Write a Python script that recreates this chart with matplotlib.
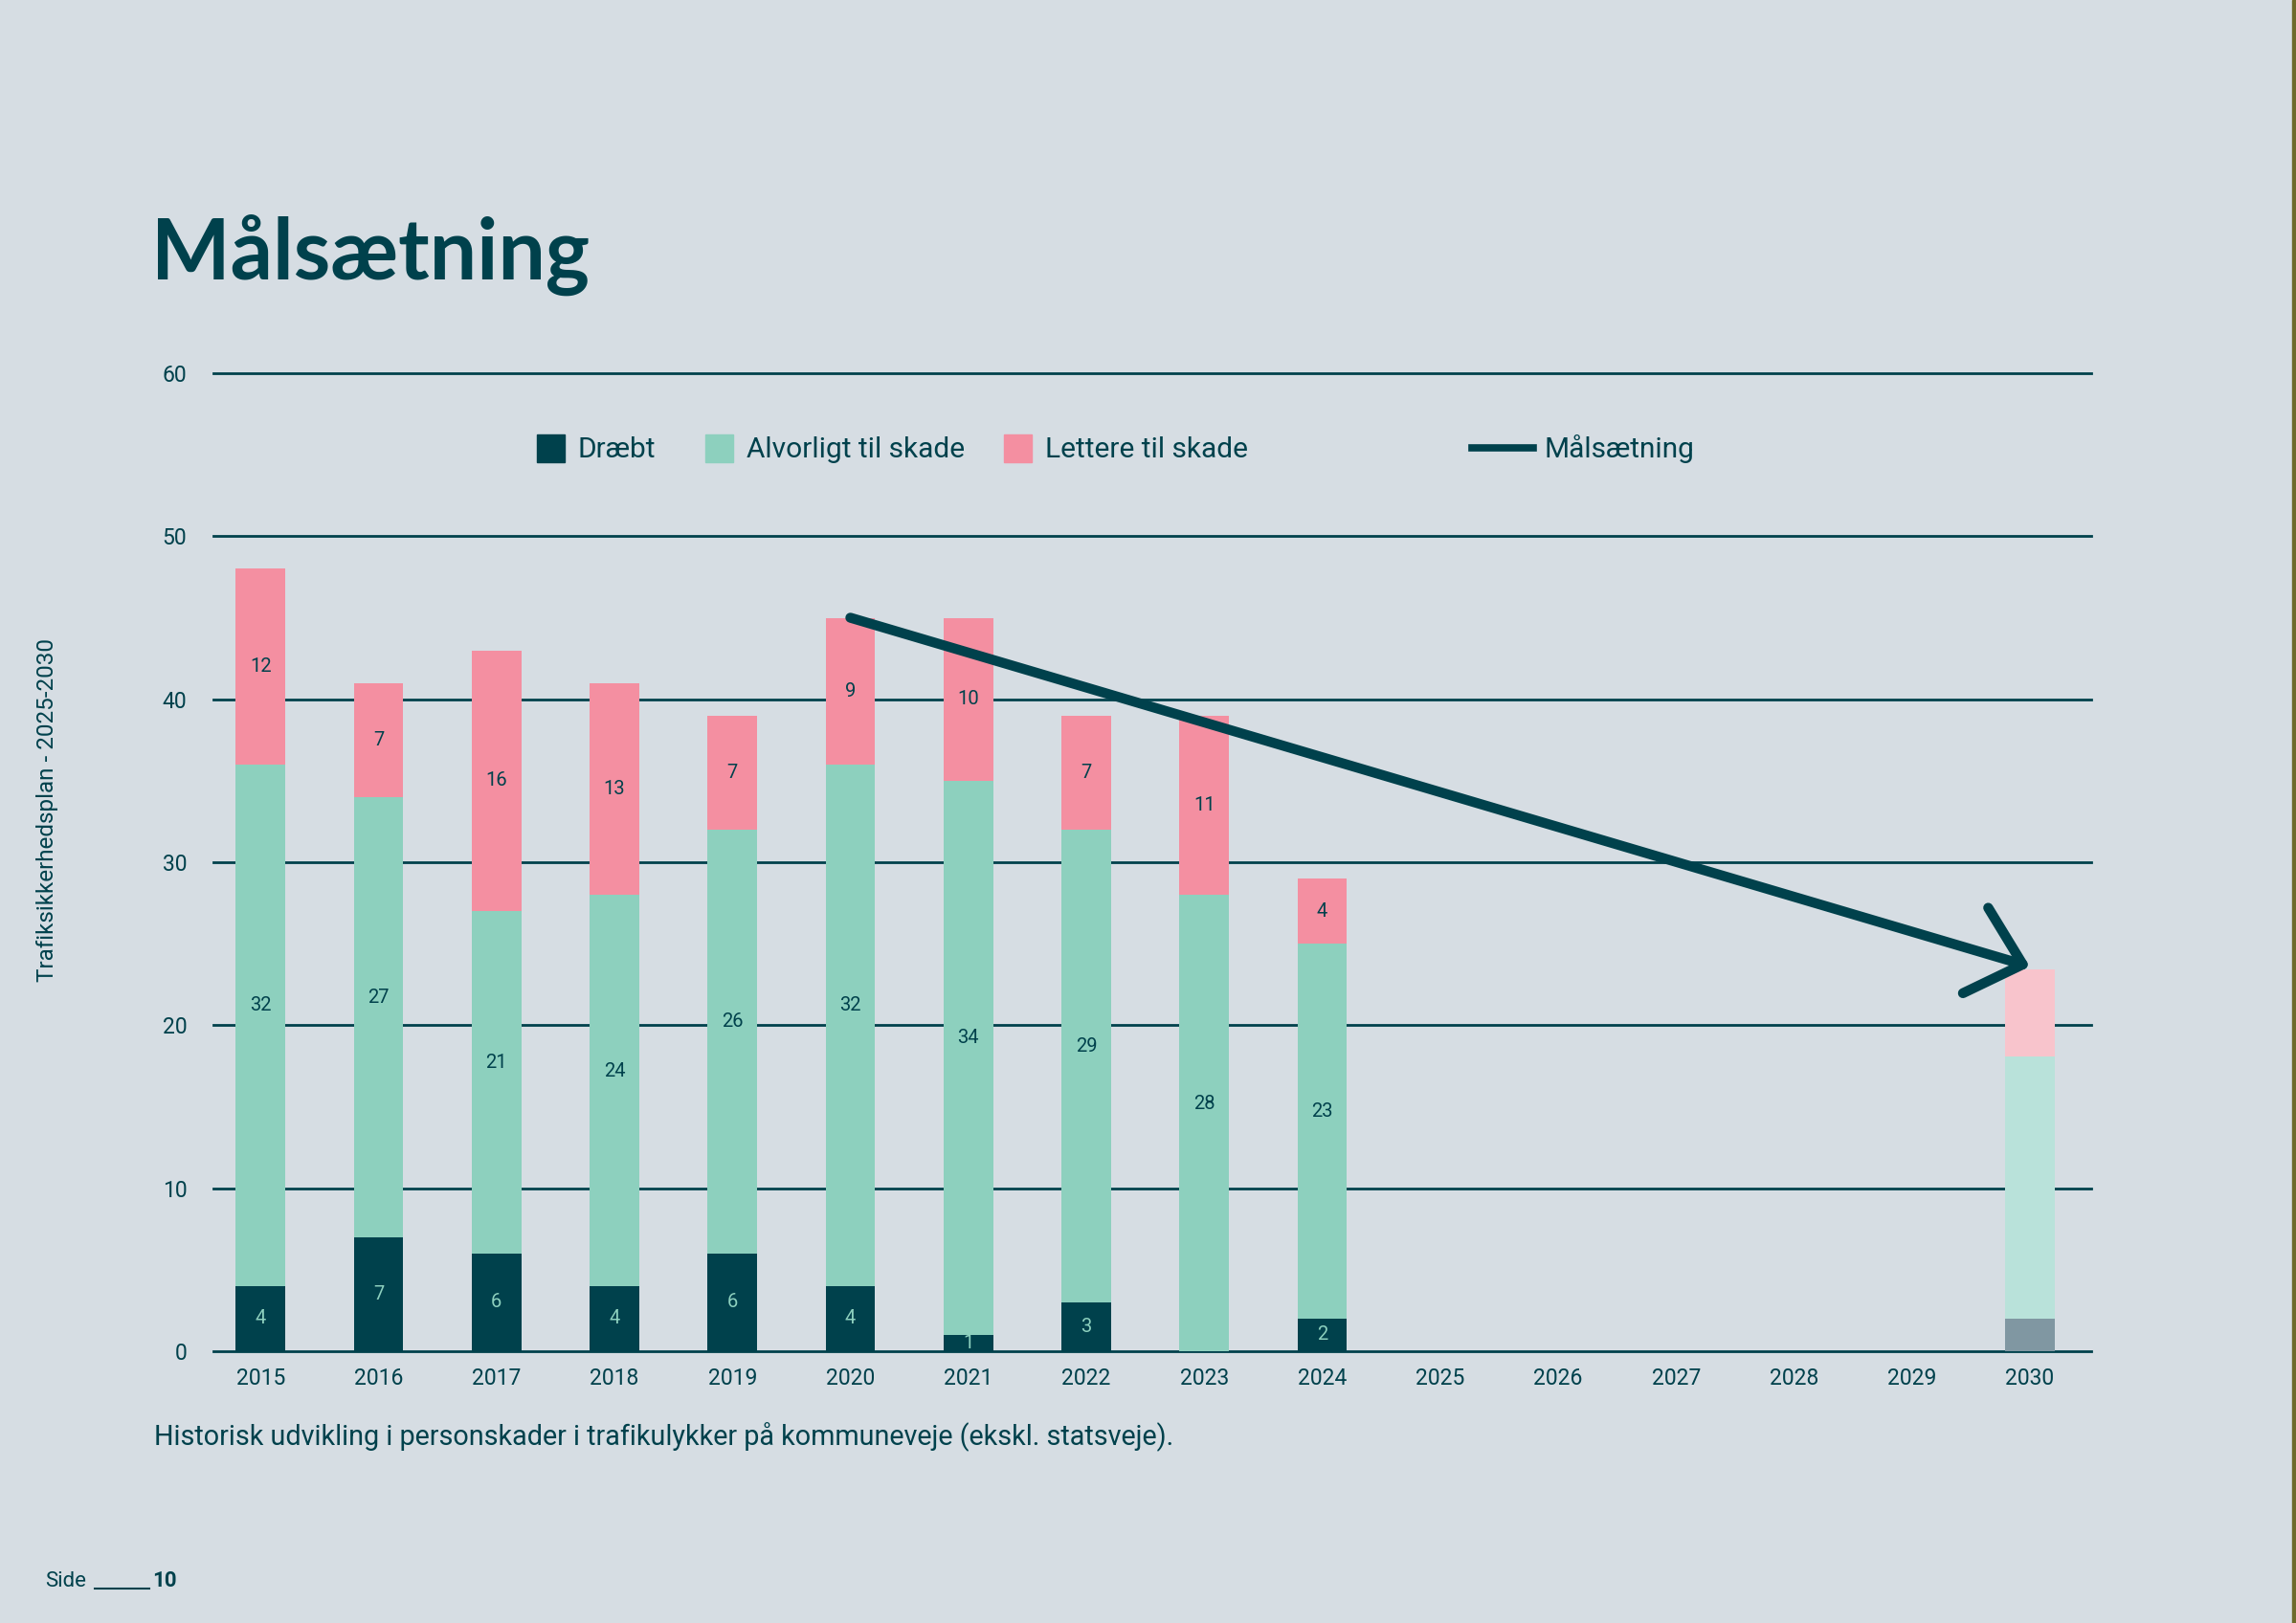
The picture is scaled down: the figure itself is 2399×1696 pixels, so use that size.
import matplotlib
matplotlib.use('Agg')
import matplotlib.pyplot as plt
from matplotlib.patches import FancyArrowPatch, Rectangle
from matplotlib.lines import Line2D
import numpy as np

# Data
years = ['2015', '2016', '2017', '2018', '2019', '2020', '2021', '2022',
         '2023', '2024', '2025', '2026', '2027', '2028', '2029', '2030']

hist_years = ['2015', '2016', '2017', '2018', '2019', '2020', '2021', '2022', '2023', '2024']
draebt = [4, 7, 6, 4, 6, 4, 1, 3, 0, 2]
alvorligt = [32, 27, 21, 24, 26, 32, 34, 29, 28, 23]
lettere = [12, 7, 16, 13, 7, 9, 10, 7, 11, 4]

# target bar for 2030
maal_year = '2030'
maal_draebt = 2
maal_alvorligt = 16.1
maal_lettere = 5.3

# target line (arrow)
arrow_years = ['2020', '2030']
arrow_values = [45, 23.6]

# colours
BG = '#d6dde3'
DARK = '#00414c'
TEAL = '#8dd0be'
PINK = '#f48fa1'
GRAY_T = '#8097a2'
TEAL_T = '#b9e2da'
PINK_T = '#f8c4cc'

FONT = ['Roboto', 'DejaVu Sans']

W, H = 2399, 1696
fig = plt.figure(figsize=(W / 100, H / 100), dpi=100)
fig.patch.set_facecolor(BG)


def fx(px):
    return px / W


def fy(py):
    return 1 - py / H


ax = fig.add_axes([fx(223), fy(1412), (2185 - 223) / W, (1412 - 390) / H])
ax.set_facecolor(BG)

bw = 0.42
x = np.array([years.index(y) for y in hist_years])
d = np.array(draebt)
a = np.array(alvorligt)
l = np.array(lettere)

ax.bar(x, d, width=bw, color=DARK, zorder=3)
ax.bar(x, a, width=bw, bottom=d, color=TEAL, zorder=3)
ax.bar(x, l, width=bw, bottom=d + a, color=PINK, zorder=3)

xt = years.index(maal_year)
ax.bar(xt, maal_draebt, width=bw, color=GRAY_T, zorder=3)
ax.bar(xt, maal_alvorligt, width=bw, bottom=maal_draebt, color=TEAL_T, zorder=3)
ax.bar(xt, maal_lettere, width=bw, bottom=maal_draebt + maal_alvorligt, color=PINK_T, zorder=3)

# value labels inside the segments
for xi, di, ai, li in zip(x, d, a, l):
    if di > 0:
        ax.text(xi, di / 2, str(di), ha='center', va='center', color=TEAL,
                fontsize=14.5, family=FONT, zorder=4)
    ax.text(xi, di + ai / 2 + 1.2, str(ai), ha='center', va='center', color=DARK,
            fontsize=14.5, family=FONT, zorder=4)
    ax.text(xi, di + ai + li / 2, str(li), ha='center', va='center', color=DARK,
            fontsize=14.5, family=FONT, zorder=4)

# target arrow
arrow = FancyArrowPatch((years.index(arrow_years[0]), arrow_values[0]),
                        (years.index(arrow_years[1]), arrow_values[1]),
                        arrowstyle='->,head_length=37,head_width=33.5',
                        mutation_scale=1, lw=7.5, color=DARK,
                        capstyle='round', joinstyle='round',
                        shrinkA=0, shrinkB=0, zorder=6)
ax.add_patch(arrow)

ax.set_xlim(-0.4, 15.52)
ax.set_ylim(0, 60)
ax.set_xticks(range(len(years)))
ax.set_xticklabels(years)
ax.set_yticks(range(0, 61, 10))
ax.yaxis.grid(True, color=DARK, lw=2)
ax.set_axisbelow(True)
for gl in ax.get_ygridlines():
    gl.set_clip_on(False)
for s in ax.spines.values():
    s.set_visible(False)
ax.tick_params(axis='both', length=0, colors=DARK, labelsize=16.5)
ax.tick_params(axis='y', pad=20)
ax.tick_params(axis='x', pad=12)
for lab in ax.get_xticklabels() + ax.get_yticklabels():
    lab.set_family(FONT)

# legend, drawn by hand to match the spacing
sq = 29
for color, label, x0 in [(DARK, 'Dræbt', 561), (TEAL, 'Alvorligt til skade', 737),
                         (PINK, 'Lettere til skade', 1049)]:
    fig.patches.append(Rectangle((fx(x0), fy(483)), sq / W, sq / H,
                                 transform=fig.transFigure, color=color))
    fig.text(fx(x0 + 43), fy(478), label, va='baseline', ha='left', color=DARK,
             fontsize=21.5, family=FONT)
fig.lines.append(Line2D([fx(1538), fx(1602)], [fy(468), fy(468)],
                        transform=fig.transFigure, lw=5.5, color=DARK))
fig.text(fx(1614), fy(478), 'Målsætning', va='baseline', ha='left', color=DARK,
         fontsize=21.5, family=FONT)

# title, caption and page furniture
fig.text(fx(158), fy(292), 'Målsætning', va='baseline', ha='left', color=DARK,
         fontsize=63, fontweight='bold', family=['Lato', 'DejaVu Sans'])
fig.text(fx(161), fy(1510),
         'Historisk udvikling i personskader i trafikulykker på kommuneveje (ekskl. statsveje).',
         va='baseline', ha='left', color=DARK, fontsize=20.7, family=FONT)
fig.text(fx(50), fy(846), 'Trafiksikkerhedsplan - 2025-2030', rotation=90,
         ha='center', va='center', color=DARK, fontsize=17.5, family=FONT)
fig.text(fx(47), fy(1658), 'Side', va='baseline', ha='left', color=DARK,
         fontsize=16, family=FONT)
fig.lines.append(Line2D([fx(99), fx(156)], [fy(1660), fy(1660)],
                        transform=fig.transFigure, lw=1.5, color=DARK))
fig.text(fx(159), fy(1658), '10', va='baseline', ha='left', color=DARK,
         fontsize=16, fontweight='bold', family=FONT)

# thin page edge on the right
fig.patches.append(Rectangle((fx(2395), 0), 4 / W, 1, transform=fig.transFigure,
                             color='#6e6a2c'))

fig.savefig('out.png', dpi=100, facecolor=BG)
